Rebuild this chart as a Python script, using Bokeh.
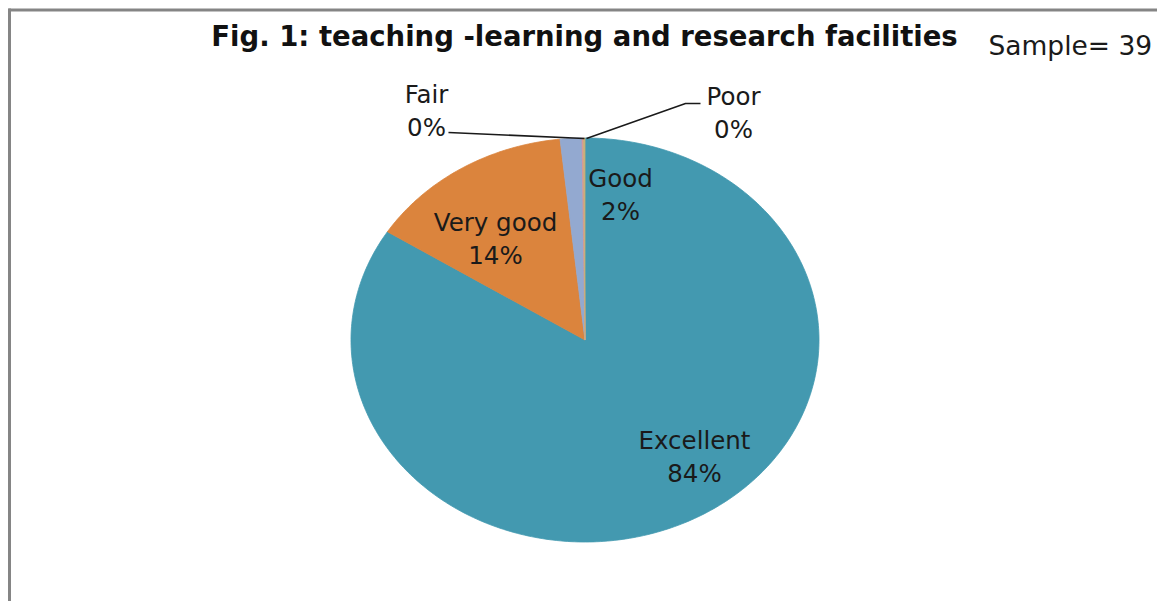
import numpy as np
from bokeh.plotting import figure
from bokeh.models import Range1d
from bokeh.core.properties import value
from bokeh.embed import file_html
from bokeh.resources import INLINE

# ---- data ----
categories = ["Excellent", "Very good", "Good", "Fair", "Poor"]
shares = [84.0, 14.3, 1.5, 0.1, 0.1]          # per cent of respondents
pct_labels = ["84%", "14%", "2%", "0%", "0%"]
colors = ["#4399B0", "#DB843D", "#93A9D0", "#D99694", "#C9B07A"]
title_text = "Fig. 1: teaching -learning and research facilities"
sample_text = "Sample= 39"

# ---- layout constants (page pixel coordinates, y downward) ----
W, H = 1157, 601
CX, CY, RX, RY = 584.5, 339.5, 234.0, 202.0
FONT = "DejaVu Sans"

p = figure(width=W, height=H, output_backend="svg", toolbar_location=None,
           x_range=Range1d(0, W), y_range=Range1d(H, 0),
           min_border=0, outline_line_color=None)
p.axis.visible = False
p.grid.visible = False
p.background_fill_color = "white"
p.border_fill_color = "white"

# frame lines (left and top visible in the crop)
p.segment(x0=[9, 8], y0=[8, 9.5], x1=[9, W + 5], y1=[H + 5, 9.5],
          line_color="#858585", line_width=3)

# pie slices (clockwise from 12 o'clock), elliptical as in the reference
total = float(sum(shares))
fr = np.cumsum([0.0] + list(shares)) / total
xs, ys = [], []
for i in range(len(shares)):
    t = np.linspace(fr[i], fr[i + 1], max(3, int((fr[i + 1] - fr[i]) * 400) + 3)) * 2 * np.pi
    xs.append([CX] + list(CX + RX * np.sin(t)) + [CX])
    ys.append([CY] + list(CY - RY * np.cos(t)) + [CY])
p.patches(xs=xs, ys=ys, fill_color=colors, line_color=colors, line_width=0.8)

# leader lines for Fair and Poor
p.line(x=[448, 584], y=[132, 138], line_color="#1a1a1a", line_width=1.5)
p.line(x=[586, 685, 700], y=[138, 103, 103], line_color="#1a1a1a", line_width=1.5)

# labels
lab_pos = {"Excellent": (694, 440), "Very good": (495, 222), "Good": (620, 178),
           "Fair": (426, 94), "Poor": (733, 96)}
lx, ly, lt = [], [], []
for c, pc in zip(categories, pct_labels):
    x, y = lab_pos[c]
    lx += [x, x]
    ly += [y, y + 33]
    lt += [c, pc]
p.text(x=lx, y=ly, text=lt, text_align="center", text_baseline="middle",
       text_font=value(FONT), text_font_size="24.5px", text_color="#1a1a1a")

p.text(x=[584], y=[35], text=[title_text], text_align="center", text_baseline="middle",
       text_font=value(FONT), text_font_style="bold", text_font_size="27.5px",
       text_color="#111111")
p.text(x=[988], y=[45], text=[sample_text], text_align="left", text_baseline="middle",
       text_font=value(FONT), text_font_size="26.5px", text_color="#1a1a1a")

open("out.html", "w").write(file_html(p, INLINE))
